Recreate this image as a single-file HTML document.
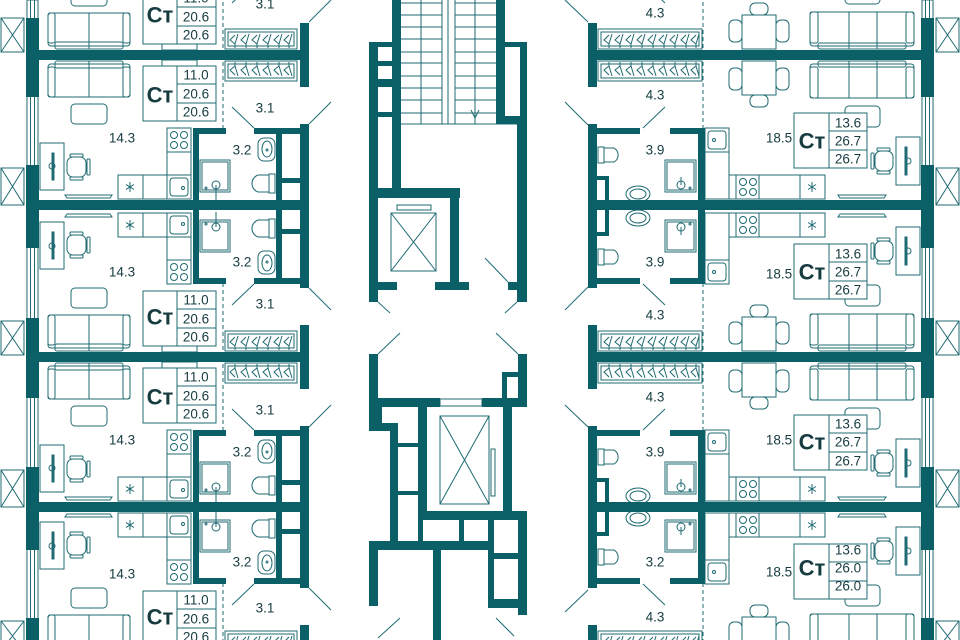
<!DOCTYPE html>
<html><head><meta charset="utf-8"><style>
html,body{margin:0;padding:0;background:#fff}
svg{display:block}
text{font-family:"Liberation Sans",sans-serif;fill:#173c40}
</style></head><body>
<svg width="960" height="640" viewBox="0 0 960 640" xmlns="http://www.w3.org/2000/svg">
<defs>
<symbol id="hg" overflow="visible"><path d="M6,1 V5 L1,9 L6,14 M6,5 L9,15" fill="none" stroke="#1f6b72" stroke-width="1"/></symbol>
<g id="L" fill="none" stroke="#1f6b72" stroke-width="1">
 <rect x="48" y="9" width="82" height="33" rx="3"/><rect x="55" y="6" width="68" height="7" rx="2"/>
 <rect x="48" y="12" width="7" height="30" rx="2"/><rect x="123" y="12" width="7" height="30" rx="2"/>
 <line x1="89" y1="6" x2="89" y2="42"/>
 <rect x="162" y="5" width="35" height="6"/>
 <rect x="143" y="11" width="73" height="55" fill="#fff"/><rect x="177" y="11" width="39" height="55"/>
 <line x1="177" y1="29" x2="216" y2="29"/><line x1="177" y1="48" x2="216" y2="48"/>
 <rect x="71" y="49" width="36" height="20" rx="4"/>
 <rect x="40" y="88" width="24" height="47"/><rect x="52" y="98" width="2" height="27" fill="#1f6b72"/><circle cx="52" cy="111" r="3"/>
 <rect x="67" y="102" width="19" height="20" rx="6"/><rect x="87" y="104" width="3" height="16" rx="1"/><rect x="70" y="99" width="13" height="3" rx="1"/><rect x="70" y="122" width="13" height="3" rx="1"/>
 <path d="M65,140 H112 L110,143 H67 Z"/>
 <rect x="118" y="120" width="73" height="24"/><line x1="143" y1="120" x2="143" y2="144"/><line x1="167" y1="120" x2="167" y2="144"/>
 <rect x="167" y="73" width="24" height="47"/><line x1="167" y1="97" x2="191" y2="97"/>
 <circle cx="174" cy="80" r="3.5"/><circle cx="184" cy="80" r="3.5"/><circle cx="174" cy="90" r="3.5"/><circle cx="184" cy="90" r="3.5"/>
 <rect x="170" y="123" width="18" height="18" rx="3"/><circle cx="183" cy="133" r="1.5"/>
 <path d="M130,127 V137 M126,129.5 L134,134.5 M126,134.5 L134,129.5"/>
 <rect x="200" y="105" width="30" height="32"/><rect x="202" y="107" width="26" height="28"/>
 <circle cx="216" cy="130" r="4"/><line x1="216" y1="130" x2="216" y2="145"/><circle cx="206" cy="133" r="1"/>
 <rect x="258" y="83" width="17" height="23" rx="6"/><ellipse cx="267" cy="94" rx="5" ry="8"/><circle cx="267" cy="95" r="1"/>
 <rect x="269" y="119" width="6" height="19"/><path d="M269,120 H258 A9,9 0 0 0 258,137 H269"/>
 <rect x="225" y="6" width="72" height="20"/><rect x="228" y="9" width="66" height="14"/>
 <use href="#hg" x="229" y="6"/><use href="#hg" x="240" y="6"/><use href="#hg" x="251" y="6"/><use href="#hg" x="262" y="6"/><use href="#hg" x="273" y="6"/><use href="#hg" x="283" y="6"/>
 <line x1="223" y1="0" x2="223" y2="73" stroke-dasharray="4 3"/>
 <line x1="232" y1="52" x2="254" y2="73"/>
 <g fill="#0b5f67" stroke="none">
  <rect x="193" y="73" width="6" height="80"/><rect x="193" y="73" width="33" height="6"/>
  <rect x="254" y="73" width="48" height="6"/><rect x="276" y="73" width="6" height="80"/><rect x="282" y="123" width="19" height="5"/>
  <rect x="300" y="69" width="9" height="84"/><rect x="300" y="0" width="9" height="32"/>
 </g>
</g>
<g id="R" fill="none" stroke="#1f6b72" stroke-width="1">
 <rect x="742" y="6" width="34" height="34"/>
 <rect x="729" y="13" width="13" height="22" rx="5"/><rect x="776" y="13" width="13" height="22" rx="5"/>
 <rect x="750" y="40" width="18" height="12" rx="5"/>
 <rect x="810" y="9" width="104" height="34" rx="3"/><rect x="818" y="6" width="88" height="6" rx="2"/>
 <rect x="810" y="12" width="8" height="31" rx="2"/><rect x="906" y="12" width="8" height="31" rx="2"/>
 <line x1="849" y1="6" x2="849" y2="43"/><line x1="877" y1="6" x2="877" y2="43"/>
 <rect x="845" y="51" width="35" height="21" rx="4"/>
 <rect x="794" y="58" width="73" height="55" fill="#fff"/><rect x="829" y="58" width="38" height="55"/>
 <line x1="829" y1="76" x2="867" y2="76"/><line x1="829" y1="95" x2="867" y2="95"/>
 <rect x="896" y="82" width="24" height="48"/><rect x="905" y="92" width="2" height="28" fill="#1f6b72"/><circle cx="908" cy="106" r="3"/>
 <rect x="875" y="96" width="18" height="20" rx="6"/><rect x="871" y="98" width="3" height="16" rx="1"/><rect x="877" y="93" width="13" height="3" rx="1"/><rect x="877" y="116" width="13" height="3" rx="1"/>
 <path d="M838,140 H886 L884,143 H840 Z"/>
 <rect x="705" y="73" width="24" height="71"/><line x1="705" y1="97" x2="729" y2="97"/>
 <rect x="708" y="76" width="18" height="18" rx="3"/><circle cx="714" cy="85" r="1.5"/>
 <rect x="729" y="120" width="96" height="24"/><line x1="736" y1="120" x2="736" y2="144"/><line x1="759" y1="120" x2="759" y2="144"/><line x1="800" y1="120" x2="800" y2="144"/>
 <circle cx="743" cy="127" r="3.5"/><circle cx="753" cy="127" r="3.5"/><circle cx="743" cy="137" r="3.5"/><circle cx="753" cy="137" r="3.5"/>
 <path d="M812,127 V137 M808,129.5 L816,134.5 M808,134.5 L816,129.5"/>
 <rect x="665" y="105" width="31" height="32"/><rect x="667" y="107" width="27" height="28"/>
 <circle cx="681" cy="130" r="4"/><line x1="681" y1="130" x2="681" y2="122"/><circle cx="690" cy="133" r="1"/>
 <rect x="598" y="92" width="6" height="16"/><path d="M604,93 H614 A8,8 0 0 1 614,107 H604"/>
 <ellipse cx="638" cy="139" rx="12" ry="8"/><ellipse cx="638" cy="139" rx="8" ry="5"/>
 <rect x="598" y="6" width="104" height="20"/><rect x="601" y="9" width="98" height="14"/>
 <use href="#hg" x="603" y="6"/><use href="#hg" x="614" y="6"/><use href="#hg" x="625" y="6"/><use href="#hg" x="636" y="6"/><use href="#hg" x="647" y="6"/><use href="#hg" x="658" y="6"/><use href="#hg" x="669" y="6"/><use href="#hg" x="680" y="6"/><use href="#hg" x="690" y="6"/>
 <line x1="703" y1="0" x2="703" y2="73" stroke-dasharray="4 3"/>
 <line x1="665" y1="52" x2="643" y2="73"/>
 <g fill="#0b5f67" stroke="none">
  <rect x="698" y="73" width="7" height="80"/><rect x="670" y="73" width="33" height="6"/>
  <rect x="588" y="69" width="9" height="84"/><rect x="597" y="73" width="43" height="6"/>
  <rect x="605" y="121" width="4" height="32"/><rect x="597" y="121" width="12" height="4"/>
  <rect x="588" y="0" width="9" height="32"/>
 </g>
</g>
</defs>

<use href="#L" transform="translate(0,55) scale(1,-1)"/>
<use href="#L" transform="translate(0,55)"/>
<use href="#L" transform="translate(0,357) scale(1,-1)"/>
<use href="#L" transform="translate(0,357)"/>
<use href="#L" transform="translate(0,657) scale(1,-1)"/>
<use href="#R" transform="translate(0,55) scale(1,-1)"/>
<use href="#R" transform="translate(0,55)"/>
<use href="#R" transform="translate(0,357) scale(1,-1)"/>
<use href="#R" transform="translate(0,357)"/>
<use href="#R" transform="translate(0,657) scale(1,-1)"/>

<g fill="#fff" stroke="#1f6b72" stroke-width="1">
 <rect x="27" y="0" width="11" height="640"/><line x1="30.5" y1="0" x2="30.5" y2="640"/><line x1="34.5" y1="0" x2="34.5" y2="640"/>
 <rect x="922" y="0" width="11" height="640"/><line x1="925.5" y1="0" x2="925.5" y2="640"/><line x1="929.5" y1="0" x2="929.5" y2="640"/>
</g>
<g fill="none" stroke="#1f6b72" stroke-width="1">
 <path d="M1,18h23v34h-23z M1,18L24,52 M24,18L1,52"/>
 <path d="M1,168h23v37h-23z M1,168L24,205 M24,168L1,205"/>
 <path d="M1,321h23v34h-23z M1,321L24,355 M24,321L1,355"/>
 <path d="M1,470h23v37h-23z M1,470L24,507 M24,470L1,507"/>
 <path d="M1,621h23v30h-23z M1,621L24,651 M24,621L1,651"/>
 <path d="M936,18h23v34h-23z M936,18L959,52 M959,18L936,52"/>
 <path d="M936,168h23v37h-23z M936,168L959,205 M959,168L936,205"/>
 <path d="M936,321h23v34h-23z M936,321L959,355 M959,321L936,355"/>
 <path d="M936,470h23v37h-23z M936,470L959,507 M959,470L936,507"/>
 <path d="M936,621h23v30h-23z M936,621L959,651 M959,621L936,651"/>
 <line x1="309" y1="22" x2="331" y2="0"/><line x1="309" y1="124" x2="331" y2="102"/><line x1="309" y1="288" x2="331" y2="310"/><line x1="309" y1="427" x2="331" y2="405"/><line x1="309" y1="588" x2="331" y2="610"/>
 <line x1="588" y1="22" x2="565" y2="0"/><line x1="588" y1="125" x2="565" y2="102"/><line x1="588" y1="287" x2="565" y2="310"/><line x1="588" y1="427" x2="565" y2="405"/><line x1="588" y1="590" x2="565" y2="612"/>
</g>

<g fill="#0b5f67">
 <rect x="26" y="50" width="283" height="10"/><rect x="26" y="200" width="283" height="10"/><rect x="26" y="352" width="283" height="10"/><rect x="26" y="502" width="283" height="10"/>
 <rect x="588" y="50" width="346" height="10"/><rect x="588" y="200" width="346" height="10"/><rect x="588" y="352" width="346" height="10"/><rect x="588" y="502" width="346" height="10"/>
 <rect x="26" y="18" width="13" height="79"/><rect x="26" y="165" width="13" height="83"/><rect x="26" y="318" width="13" height="80"/><rect x="26" y="467" width="13" height="83"/><rect x="26" y="618" width="13" height="22"/>
 <rect x="921" y="18" width="13" height="79"/><rect x="921" y="165" width="13" height="83"/><rect x="921" y="318" width="13" height="80"/><rect x="921" y="467" width="13" height="83"/><rect x="921" y="618" width="13" height="22"/>
</g>

<g fill="none" stroke="#1f6b72" stroke-width="1">
 <path d="M401,3H496M401,15H496M401,27H496M401,39H496M401,52H496M401,63H496M401,76H496M401,88H496M401,100H496M401,113H496M401,124H517"/>
 <path d="M421,0V124M475,0V124"/>
 <rect x="442" y="-1" width="13" height="125" fill="#fff"/><line x1="448" y1="0" x2="448" y2="124"/>
 <path d="M471,110L475,118L479,110M475,100V118"/>
 <rect x="391" y="213" width="45" height="58"/><path d="M391,213L436,271M436,213L391,271"/>
 <rect x="397" y="205" width="34" height="5"/>
 <line x1="485" y1="258" x2="508" y2="282"/>
 <line x1="378" y1="302" x2="390" y2="313"/><line x1="517" y1="302" x2="505" y2="313"/>
 <line x1="378" y1="354" x2="400" y2="333"/><line x1="518" y1="354" x2="496" y2="333"/>
 <rect x="440" y="399" width="42" height="7"/>
 <rect x="440" y="416" width="49" height="88"/><path d="M440,416L489,504M489,416L440,504"/>
 <rect x="491" y="449" width="4" height="47"/>
 <line x1="378" y1="638" x2="400" y2="618"/><line x1="496" y1="618" x2="514" y2="636"/>
</g>
<g fill="#0b5f67">
 <rect x="392" y="0" width="9" height="188"/><rect x="496" y="0" width="9" height="124"/>
 <rect x="369" y="42" width="9" height="260"/><rect x="369" y="42" width="23" height="5"/>
 <rect x="377" y="61" width="15" height="5"/><rect x="377" y="79" width="15" height="8"/><rect x="377" y="112" width="15" height="5"/>
 <rect x="505" y="42" width="22" height="5"/><rect x="520" y="42" width="7" height="74"/><rect x="505" y="116" width="22" height="8"/><rect x="517" y="116" width="10" height="186"/>
 <rect x="369" y="188" width="91" height="10"/><rect x="450" y="188" width="9" height="102"/>
 <rect x="369" y="282" width="28" height="8"/><rect x="435" y="282" width="34" height="8"/><rect x="508" y="282" width="9" height="8"/>
 <rect x="369" y="354" width="9" height="77"/><rect x="518" y="354" width="9" height="53"/>
 <rect x="378" y="398" width="62" height="9"/><rect x="482" y="398" width="45" height="9"/>
 <rect x="502" y="372" width="5" height="26"/><rect x="502" y="372" width="16" height="5"/>
 <rect x="369" y="423" width="29" height="8"/><rect x="390" y="423" width="8" height="118"/><rect x="378" y="407" width="4" height="16"/>
 <rect x="398" y="443" width="20" height="4"/><rect x="398" y="491" width="20" height="4"/>
 <rect x="418" y="407" width="9" height="113"/><rect x="503" y="407" width="9" height="113"/><rect x="418" y="511" width="109" height="9"/>
 <rect x="418" y="520" width="5" height="21"/><rect x="459" y="520" width="5" height="21"/><rect x="488" y="520" width="6" height="80"/>
 <rect x="518" y="520" width="9" height="95"/><rect x="494" y="553" width="24" height="6"/><rect x="488" y="599" width="30" height="9"/>
 <rect x="369" y="541" width="125" height="9"/><rect x="369" y="541" width="9" height="65"/><rect x="433" y="550" width="8" height="90"/>
</g>

<g font-size="13.5" text-anchor="middle" dominant-baseline="central">
 <text x="196" y="-2">11.0</text><text x="196" y="17">20.6</text><text x="196" y="35">20.6</text>
 <text x="196" y="75">11.0</text><text x="196" y="94">20.6</text><text x="196" y="112">20.6</text>
 <text x="196" y="300">11.0</text><text x="196" y="319">20.6</text><text x="196" y="337">20.6</text>
 <text x="196" y="377">11.0</text><text x="196" y="396">20.6</text><text x="196" y="414">20.6</text>
 <text x="196" y="600">11.0</text><text x="196" y="619">20.6</text><text x="196" y="637">20.6</text>
 <text x="122" y="138">14.3</text><text x="122" y="272">14.3</text><text x="122" y="440">14.3</text><text x="122" y="574">14.3</text>
 <text x="242" y="150">3.2</text><text x="242" y="262">3.2</text><text x="242" y="452">3.2</text><text x="242" y="562">3.2</text>
 <text x="265" y="4">3.1</text><text x="265" y="108">3.1</text><text x="265" y="304">3.1</text><text x="265" y="410">3.1</text><text x="265" y="608">3.1</text>
 <text x="848" y="123">13.6</text><text x="848" y="141">26.7</text><text x="848" y="159">26.7</text>
 <text x="848" y="254">13.6</text><text x="848" y="272">26.7</text><text x="848" y="290">26.7</text>
 <text x="848" y="424">13.6</text><text x="848" y="442">26.7</text><text x="848" y="461">26.7</text>
 <text x="848" y="550">13.6</text><text x="848" y="568">26.0</text><text x="848" y="586">26.0</text>
 <text x="779" y="138">18.5</text><text x="779" y="274">18.5</text><text x="779" y="440">18.5</text><text x="779" y="572">18.5</text>
 <text x="655" y="150">3.9</text><text x="655" y="262">3.9</text><text x="655" y="452">3.9</text><text x="655" y="562">3.2</text>
 <text x="655" y="13">4.3</text><text x="655" y="95">4.3</text><text x="655" y="315">4.3</text><text x="655" y="397">4.3</text><text x="655" y="617">4.3</text>
</g>
<g font-size="22" font-weight="bold" text-anchor="middle" dominant-baseline="central">
 <text x="160" y="15">Ст</text><text x="160" y="95">Ст</text><text x="160" y="317">Ст</text><text x="160" y="397">Ст</text><text x="160" y="617">Ст</text>
 <text x="812" y="141">Ст</text><text x="812" y="272">Ст</text><text x="812" y="442">Ст</text><text x="812" y="568">Ст</text>
</g>
</svg>
</body></html>
